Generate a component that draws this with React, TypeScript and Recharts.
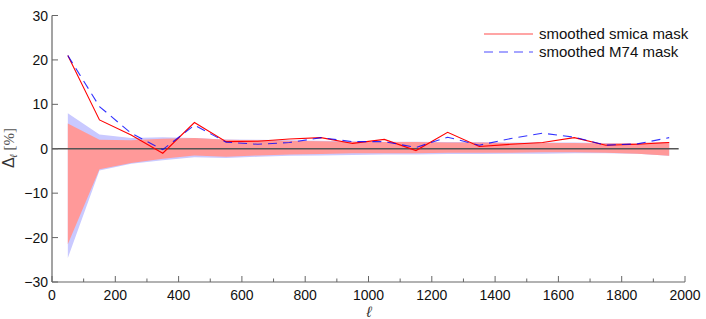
import React from "react";
import {
  ComposedChart,
  Line,
  Area,
  XAxis,
  YAxis,
  ReferenceLine,
  Legend,
} from "recharts";

const ells = [50, 150, 250, 350, 450, 550, 650, 750, 850, 950, 1050, 1150, 1250, 1350, 1450, 1550, 1650, 1750, 1850, 1950];
const smica = [21, 6.5, 3.1, -1.0, 5.9, 1.6, 1.7, 2.2, 2.5, 1.2, 2.1, -0.4, 3.7, 0.5, 1.0, 1.4, 2.5, 0.8, 1.0, 1.4];
const m74 = [21, 9.5, 3.5, -0.2, 5.3, 1.5, 1.0, 1.4, 2.5, 1.6, 1.6, 0.3, 2.6, 0.8, 2.3, 3.5, 2.6, 0.8, 1.1, 2.5];
const redUpper = [5.7, 2.0, 1.9, 2.25, 2.4, 2.0, 1.9, 1.8, 1.7, 1.6, 1.5, 1.5, 1.4, 1.4, 1.3, 1.3, 1.3, 1.2, 1.3, 1.5];
const redLower = [-21.5, -4.6, -3.2, -2.25, -1.5, -1.8, -1.5, -1.3, -1.2, -1.0, -1.0, -1.0, -0.9, -0.9, -0.9, -0.8, -0.8, -0.9, -1.1, -1.6];
const blueUpper = [8.0, 3.2, 2.4, 2.6, 2.4, 2.1, 2.0, 1.9, 1.8, 1.7, 1.6, 1.6, 1.5, 1.5, 1.4, 1.4, 1.4, 1.3, 1.3, 1.5];
const blueLower = [-24.6, -4.9, -3.4, -2.6, -1.9, -2.1, -1.8, -1.6, -1.5, -1.4, -1.3, -1.3, -1.2, -1.2, -1.1, -1.1, -1.0, -1.0, -1.1, -1.6];
const xTicks = [0, 100, 200, 300, 400, 500, 600, 700, 800, 900, 1000, 1100, 1200, 1300, 1400, 1500, 1600, 1700, 1800, 1900, 2000];
const yTicks = [-30, -20, -10, 0, 10, 20, 30];
const legendItems = [
  { name: "smoothed smica mask", color: "#ff0000", dash: "" },
  { name: "smoothed M74 mask", color: "#0000ff", dash: "9 6" },
];

const data = ells.map((l, i) => ({
  ell: l,
  smica: smica[i],
  m74: m74[i],
  red: [redLower[i], redUpper[i]],
  blue: [blueLower[i], blueUpper[i]],
}));

const FONT = "'Liberation Sans', Arial, sans-serif";
const AXIS_COLOR = "#666";

const XTick = (props: any) => {
  const { x, y, payload } = props;
  const v = payload.value;
  const major = v % 200 === 0;
  return (
    <g>
      <line x1={x} x2={x} y1={y} y2={y - (major ? 6 : 3.5)} stroke={AXIS_COLOR} strokeWidth={1} />
      {major && (
        <text x={x} y={y + 18} textAnchor="middle" fontSize={14} fontFamily={FONT} fill="#111">
          {String(v)}
        </text>
      )}
    </g>
  );
};

const YTick = (props: any) => {
  const { x, y, payload } = props;
  const v = payload.value;
  const label = v < 0 ? "\u2212" + Math.abs(v) : String(v);
  return (
    <g>
      <line x1={x} x2={x + 6} y1={y} y2={y} stroke={AXIS_COLOR} strokeWidth={1} />
      <text x={x - 4} y={y} dy="0.36em" textAnchor="end" fontSize={14} fontFamily={FONT} fill="#111">
        {label}
      </text>
    </g>
  );
};

const LegendContent = () => (
  <div style={{ fontFamily: FONT, fontSize: 15, color: "#111", lineHeight: "18px" }}>
    {legendItems.map((it) => (
      <div key={it.name} style={{ display: "flex", alignItems: "center" }}>
        <svg width={55} height={18} style={{ display: "block" }}>
          <line x1={0} x2={49} y1={9} y2={9} stroke={it.color} strokeWidth={1.2} strokeDasharray={it.dash} strokeOpacity={0.7} />
        </svg>
        <span>{it.name}</span>
      </div>
    ))}
  </div>
);

export default function App() {
  return (
    <div style={{ position: "absolute", left: 0, top: 0, width: 706, height: 319, background: "#fff" }}>
      <ComposedChart
        width={706}
        height={319}
        data={data}
        margin={{ top: 15.5, right: 21, bottom: 0, left: 0 }}
      >
        <XAxis
          dataKey="ell"
          type="number"
          domain={[0, 2000]}
          ticks={xTicks}
          interval={0}
          height={37}
          tickSize={0}
          tickMargin={0}
          tickLine={false}
          tick={<XTick />}
          axisLine={{ stroke: AXIS_COLOR, strokeWidth: 1.2 }}
          allowDataOverflow
        />
        <YAxis
          type="number"
          domain={[-30, 30]}
          ticks={yTicks}
          interval={0}
          width={52}
          tickSize={0}
          tickMargin={0}
          tickLine={false}
          tick={<YTick />}
          axisLine={{ stroke: AXIS_COLOR, strokeWidth: 1.2 }}
          allowDataOverflow
        />
        <Area
          dataKey="blue"
          type="linear"
          stroke="none"
          fill="#c9c9ff"
          fillOpacity={1}
          isAnimationActive={false}
          legendType="none"
        />
        <Area
          dataKey="red"
          type="linear"
          stroke="none"
          fill="#ff9999"
          fillOpacity={1}
          isAnimationActive={false}
          legendType="none"
        />
        <ReferenceLine
          segment={[{ x: 0, y: 0 }, { x: 1980, y: 0 }]}
          stroke="#555"
          strokeWidth={1.6}
        />
        <Line
          dataKey="smica"
          type="linear"
          stroke="#ff0000"
          strokeWidth={1.1}
          dot={false}
          isAnimationActive={false}
        />
        <Line
          dataKey="m74"
          type="linear"
          stroke="#0000ff"
          strokeWidth={1.1}
          strokeDasharray="9 6"
          strokeOpacity={0.8}
          dot={false}
          isAnimationActive={false}
        />
        <Legend
          layout="vertical"
          verticalAlign="middle"
          align="center"
          content={<LegendContent />}
          wrapperStyle={{ position: "absolute", left: 484, top: 25, width: 215 }}
        />
        <text x={369} y={317} textAnchor="middle" fontSize={15} fontStyle="italic" fontFamily={FONT} fill="#333">
          ℓ
        </text>
        <text
          x={0}
          y={0}
          transform="translate(14,148) rotate(-90)"
          textAnchor="middle"
          fontSize={16}
          fontFamily={FONT}
          fill="#333"
        >
          Δ<tspan fontSize={10} dy={3} fontStyle="italic">ℓ</tspan>
          <tspan dy={-3} fontFamily="'Liberation Serif', serif" fontSize={15} fill="#555"> [%]</tspan>
        </text>
      </ComposedChart>
    </div>
  );
}
